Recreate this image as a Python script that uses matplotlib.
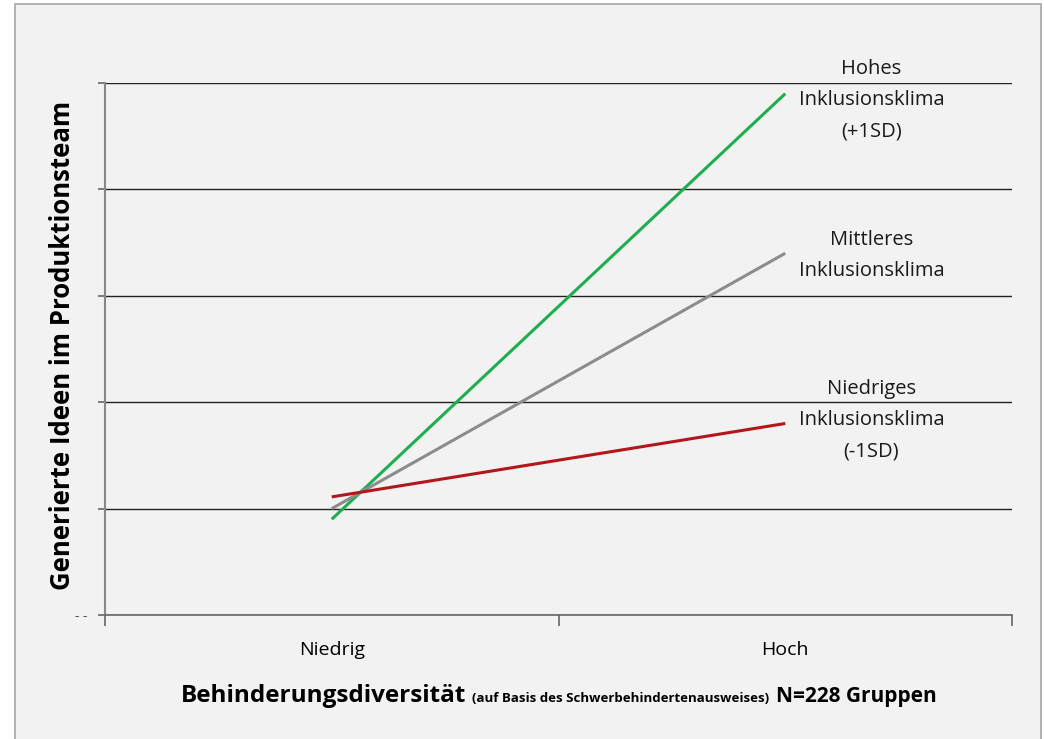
import matplotlib.pyplot as plt
from matplotlib.patches import Rectangle

# Behinderungsdiversitaet x Inklusionsklima
kategorien = ['Niedrig', 'Hoch']
x_pos = [0.5, 1.5]
hoch_klima = [0.9, 4.9]       # +1SD
mittel_klima = [1.0, 3.4]
niedrig_klima = [1.11, 1.80]  # -1SD

labels = ['Hohes\nInklusionsklima\n(+1SD)',
          'Mittleres\nInklusionsklima',
          'Niedriges\nInklusionsklima\n(-1SD)']
label_y = [4.84, 3.38, 1.835]
farben = ['#1fae4f', '#8c8c8c', '#b3171c']

plt.rcParams['font.family'] = ['Open Sans', 'DejaVu Sans']

fig = plt.figure(figsize=(10.44, 7.39), dpi=100)
fig.patch.set_facecolor('white')
fig.patches.append(Rectangle((15/1044, -0.01), 1026/1044, 1 - 4/739 + 0.01,
                             transform=fig.transFigure, facecolor='#f2f2f2',
                             edgecolor='#a6a6a6', lw=1.2, zorder=-10))

ax = fig.add_axes([105/1044, 1 - 615/739, 907/1044, 532/739])
ax.set_facecolor('none')

for serie, c in zip([hoch_klima, mittel_klima, niedrig_klima], farben):
    ax.plot(x_pos, serie, color=c, lw=2.2, solid_capstyle='butt', zorder=3)

for txt, yy in zip(labels, label_y):
    ax.text(1.69, yy, txt, ha='center', va='center', fontsize=14.5,
            linespacing=1.75, color='#1a1a1a')

ax.set_xlim(0, 2)
ax.set_ylim(0, 5)
ax.set_yticks(range(6))
ax.set_yticklabels(['- -', '', '', '', '', ''], fontsize=10, color='#555555')
ax.yaxis.grid(True, color='#222222', lw=1)
ax.set_axisbelow(True)

ax.set_xticks([0, 1, 2])
ax.set_xticklabels([])
ax.set_xticks(x_pos, minor=True)
ax.set_xticklabels(kategorien, minor=True, fontsize=14)
ax.tick_params(axis='x', which='major', length=8, color='#666666', width=1.2)
ax.tick_params(axis='x', which='minor', length=0, pad=19)
ax.tick_params(axis='y', length=5, color='#666666', width=1.2, pad=8)

for s in ['top', 'right']:
    ax.spines[s].set_visible(False)
ax.spines['left'].set_color('#888888')
ax.spines['left'].set_linewidth(1.5)
ax.spines['bottom'].set_color('#666666')
ax.spines['bottom'].set_linewidth(1.2)

fig.text(63/1044, 1 - 345/739, 'Generierte Ideen im Produktionsteam',
         fontsize=18.5, fontweight='bold', rotation=90, ha='center', va='center')

# x-Achsentitel aus drei Teilen auf gemeinsamer Grundlinie
renderer = fig.canvas.get_renderer()
base_y = 1 - 702/739
teile = [('Behinderungsdiversität', 17.5), ('(auf Basis des Schwerbehindertenausweises)', 9.5),
         ('N=228 Gruppen', 15)]
x_px = 181
for txt, fs in teile:
    t = fig.text(x_px/1044, base_y, txt, fontsize=fs, fontweight='bold', va='baseline')
    x_px = t.get_window_extent(renderer).x1 + 6

fig.savefig('out.png', dpi=100, facecolor=fig.get_facecolor())
